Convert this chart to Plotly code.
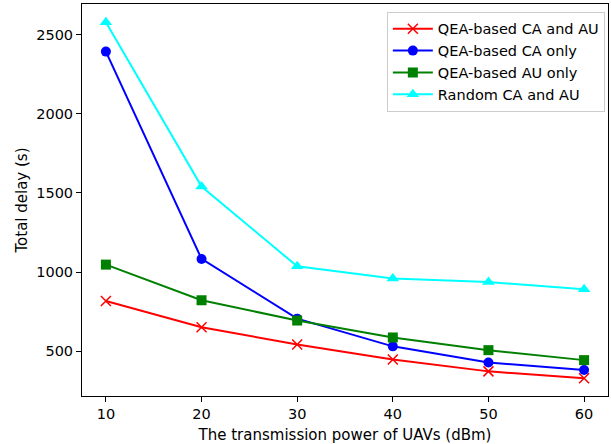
import plotly.graph_objects as go

power = [10, 20, 30, 40, 50, 60]
qea_ca_au = [817, 652, 543, 448, 373, 330]
qea_ca_only = [2392, 1083, 706, 531, 429, 382]
qea_au_only = [1047, 822, 694, 587, 507, 444]
random_ca_au = [2577, 1540, 1036, 960, 937, 891]

names = ["QEA-based CA and AU", "QEA-based CA only", "QEA-based AU only", "Random CA and AU"]
colors = ["red", "blue", "green", "cyan"]
symbols = ["x-thin", "circle", "square", "triangle-up"]
sizes = [10, 10, 10, 11]
series = [qea_ca_au, qea_ca_only, qea_au_only, random_ca_au]

fig = go.Figure()
for n, c, s, sz, ys in zip(names, colors, symbols, sizes, series):
    marker = dict(symbol=s, size=sz, color=c)
    if s == "x-thin":
        marker["line"] = dict(color=c, width=1.5)
    fig.add_trace(go.Scatter(x=power, y=ys, name=n, mode="lines+markers",
                             line=dict(color=c, width=2), marker=marker))

axis_common = dict(showline=True, linecolor="black", linewidth=1, mirror=True,
                   ticks="outside", ticklen=5, tickcolor="black", showgrid=False,
                   zeroline=False, tickfont=dict(family="DejaVu Sans", size=14.5, color="black"))
fig.update_layout(
    width=611, height=444,
    margin=dict(l=82, r=3, t=4, b=48),
    plot_bgcolor="white", paper_bgcolor="white",
    font=dict(family="DejaVu Sans", size=14.5, color="black"),
    xaxis=dict(range=[7.5, 62.5], tickvals=power,
               title=dict(text="The transmission power of UAVs (dBm)", standoff=8,
                          font=dict(size=15)), **axis_common),
    yaxis=dict(range=[217.5, 2692.5], tickvals=[500, 1000, 1500, 2000, 2500],
               title=dict(text="Total delay (s)", standoff=4, font=dict(size=15)),
               **axis_common),
    legend=dict(x=0.994, y=0.98, xanchor="right", yanchor="top",
                bordercolor="#cccccc", borderwidth=1, bgcolor="rgba(255,255,255,0.8)",
                font=dict(size=14.5), tracegroupgap=0, itemwidth=40),
    showlegend=True,
)
fig.write_html("out.html")
